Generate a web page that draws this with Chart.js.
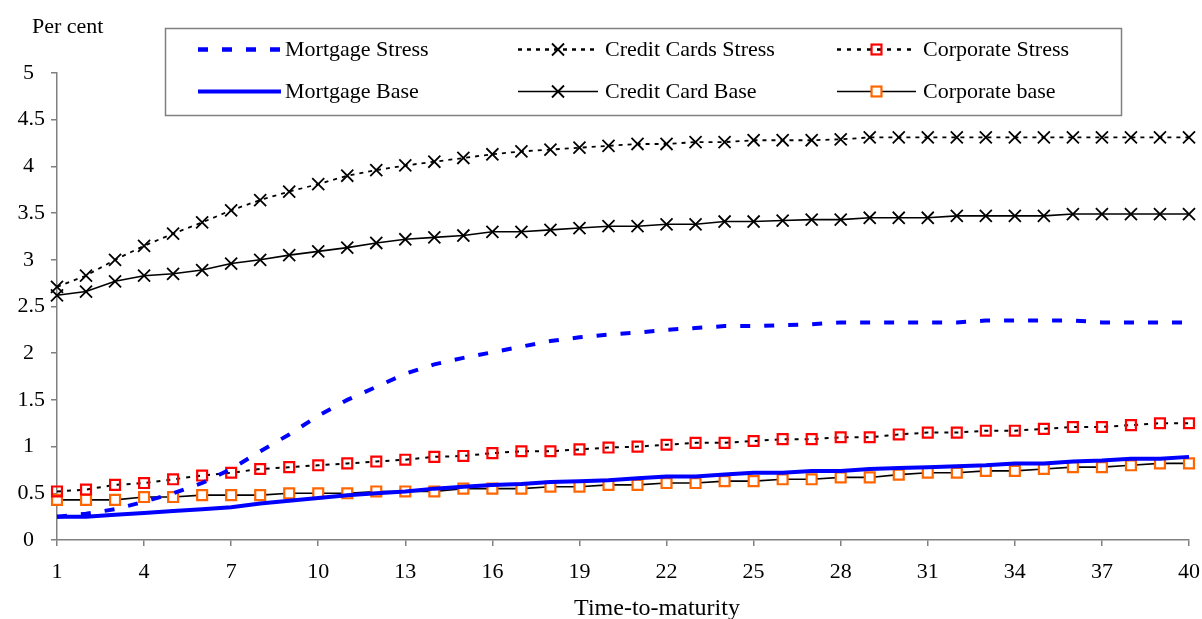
<!DOCTYPE html>
<html>
<head>
<meta charset="utf-8">
<script src="https://cdn.jsdelivr.net/npm/chart.js@4/dist/chart.umd.min.js"></script>
<style>
  html, body { margin: 0; padding: 0; background: #fff; }
  canvas { display: block; }
</style>
</head>
<body>
<canvas id="chart" width="1202" height="619"></canvas>
<script>
const FONT = `"Liberation Serif", "Times New Roman", serif`;
const AXIS_GREY = `#808080`;

const maturities = [1, 2, 3, 4, 5, 6, 7, 8, 9, 10, 11, 12, 13, 14, 15, 16, 17, 18, 19, 20,
  21, 22, 23, 24, 25, 26, 27, 28, 29, 30, 31, 32, 33, 34, 35, 36, 37, 38, 39, 40];

const mortgageStress = [0.25, 0.28, 0.33, 0.41, 0.50, 0.61, 0.76, 0.95, 1.13, 1.33,
  1.50, 1.64, 1.78, 1.88, 1.95, 2.01, 2.07, 2.13, 2.17, 2.20,
  2.22, 2.25, 2.27, 2.29, 2.29, 2.30, 2.31, 2.33, 2.33, 2.33,
  2.33, 2.33, 2.35, 2.35, 2.35, 2.35, 2.33, 2.33, 2.33, 2.33];

const mortgageBase = [0.25, 0.25, 0.27, 0.29, 0.31, 0.33, 0.35, 0.39, 0.42, 0.45,
  0.48, 0.50, 0.52, 0.55, 0.57, 0.59, 0.60, 0.62, 0.63, 0.64,
  0.66, 0.68, 0.68, 0.70, 0.72, 0.72, 0.74, 0.74, 0.76, 0.77,
  0.78, 0.79, 0.80, 0.82, 0.82, 0.84, 0.85, 0.87, 0.87, 0.89];

const creditStress = [2.71, 2.83, 3.00, 3.15, 3.28, 3.40, 3.53, 3.64, 3.73, 3.81,
  3.90, 3.96, 4.01, 4.05, 4.09, 4.13, 4.16, 4.18, 4.20, 4.22,
  4.24, 4.24, 4.26, 4.26, 4.28, 4.28, 4.28, 4.29, 4.31, 4.31,
  4.31, 4.31, 4.31, 4.31, 4.31, 4.31, 4.31, 4.31, 4.31, 4.31];

const creditBase = [2.62, 2.66, 2.77, 2.83, 2.85, 2.89, 2.96, 3.00, 3.05, 3.09,
  3.13, 3.18, 3.22, 3.24, 3.26, 3.30, 3.30, 3.32, 3.34, 3.36,
  3.36, 3.38, 3.38, 3.41, 3.41, 3.42, 3.43, 3.43, 3.45, 3.45,
  3.45, 3.47, 3.47, 3.47, 3.47, 3.49, 3.49, 3.49, 3.49, 3.49];

const corporateStress = [0.52, 0.54, 0.59, 0.61, 0.65, 0.69, 0.72, 0.76, 0.78, 0.80,
  0.82, 0.84, 0.86, 0.89, 0.90, 0.93, 0.95, 0.95, 0.97, 0.99,
  1.00, 1.02, 1.04, 1.04, 1.06, 1.08, 1.08, 1.10, 1.10, 1.13,
  1.15, 1.15, 1.17, 1.17, 1.19, 1.21, 1.21, 1.23, 1.25, 1.25];

const corporateBase = [0.43, 0.43, 0.43, 0.46, 0.46, 0.48, 0.48, 0.48, 0.50, 0.50,
  0.50, 0.52, 0.52, 0.52, 0.55, 0.55, 0.55, 0.57, 0.57, 0.59,
  0.59, 0.61, 0.61, 0.63, 0.63, 0.65, 0.65, 0.67, 0.67, 0.70,
  0.72, 0.72, 0.74, 0.74, 0.76, 0.78, 0.78, 0.80, 0.82, 0.82];

const toPoints = (values) => values.map((v, i) => ({x: maturities[i], y: v}));

const lineDefaults = {
  tension: 0,
  fill: false,
  clip: false,
  pointHoverRadius: 0,
};

const datasets = [
  Object.assign({}, lineDefaults, {
    label: `Mortgage Stress`,
    data: toPoints(mortgageStress),
    borderColor: `#0000ff`,
    borderWidth: 4,
    borderDash: [10, 14],
    borderCapStyle: `butt`,
    pointRadius: 0,
  }),
  Object.assign({}, lineDefaults, {
    label: `Credit Cards Stress`,
    data: toPoints(creditStress),
    borderColor: `#000000`,
    borderWidth: 1.8,
    borderDash: [4, 5],
    pointStyle: `crossRot`,
    pointRadius: 8.5,
    pointBorderColor: `#000000`,
    pointBorderWidth: 1.8,
  }),
  Object.assign({}, lineDefaults, {
    label: `Corporate Stress`,
    data: toPoints(corporateStress),
    borderColor: `#000000`,
    borderWidth: 2,
    borderDash: [4, 6],
    pointStyle: `rect`,
    pointRadius: 7,
    pointBorderColor: `#ff0000`,
    pointBackgroundColor: `rgba(255,255,255,0)`,
    pointBorderWidth: 2.2,
  }),
  Object.assign({}, lineDefaults, {
    label: `Mortgage Base`,
    data: toPoints(mortgageBase),
    borderColor: `#0000ff`,
    borderWidth: 4,
    pointRadius: 0,
  }),
  Object.assign({}, lineDefaults, {
    label: `Credit Card Base`,
    data: toPoints(creditBase),
    borderColor: `#000000`,
    borderWidth: 1.6,
    pointStyle: `crossRot`,
    pointRadius: 8.5,
    pointBorderColor: `#000000`,
    pointBorderWidth: 1.8,
  }),
  Object.assign({}, lineDefaults, {
    label: `Corporate base`,
    data: toPoints(corporateBase),
    borderColor: `#000000`,
    borderWidth: 1.6,
    pointStyle: `rect`,
    pointRadius: 7,
    pointBorderColor: `#ff6600`,
    pointBackgroundColor: `#ffffff`,
    pointBorderWidth: 2.2,
  }),
];

// legend slots: [column sample start, sample end, text x], rows by baseline
const legendColumns = [[198, 281, 285], [518, 598, 605], [837, 916, 923]];
const legendRows = [49.5, 91.5];
const legendOrder = [
  [`Mortgage Stress`, 0, 0], [`Credit Cards Stress`, 1, 0], [`Corporate Stress`, 2, 0],
  [`Mortgage Base`, 0, 1], [`Credit Card Base`, 1, 1], [`Corporate base`, 2, 1],
];

const drawMarker = (ctx, ds, x, y) => {
  if (!ds.pointRadius) {
    return;
  }
  ctx.save();
  ctx.setLineDash([]);
  ctx.lineWidth = ds.pointBorderWidth;
  ctx.strokeStyle = ds.pointBorderColor;
  if (ds.pointStyle === `crossRot`) {
    const r = ds.pointRadius * Math.SQRT1_2;
    ctx.beginPath();
    ctx.moveTo(x - r, y - r);
    ctx.lineTo(x + r, y + r);
    ctx.moveTo(x - r, y + r);
    ctx.lineTo(x + r, y - r);
    ctx.stroke();
  } else {
    const s = ds.pointRadius * Math.SQRT1_2;
    ctx.fillStyle = ds.pointBackgroundColor;
    ctx.fillRect(x - s, y - s, 2 * s, 2 * s);
    ctx.strokeRect(x - s, y - s, 2 * s, 2 * s);
  }
  ctx.restore();
};

const annotations = {
  id: `annotations`,
  beforeDraw(chart) {
    const ctx = chart.ctx;
    ctx.save();
    ctx.fillStyle = `#ffffff`;
    ctx.fillRect(0, 0, chart.width, chart.height);
    ctx.restore();
  },
  afterDraw(chart) {
    const ctx = chart.ctx;
    ctx.save();

    // axis captions
    ctx.fillStyle = `#000000`;
    ctx.font = `22px ${FONT}`;
    ctx.textBaseline = `alphabetic`;
    ctx.textAlign = `left`;
    ctx.fillText(`Per cent`, 32, 33);
    ctx.font = `24px ${FONT}`;
    ctx.textAlign = `center`;
    ctx.fillText(`Time-to-maturity`, 657, 615);

    // legend box
    ctx.strokeStyle = AXIS_GREY;
    ctx.lineWidth = 1.5;
    ctx.strokeRect(165.5, 28.5, 956, 87);

    ctx.font = `22px ${FONT}`;
    ctx.textAlign = `left`;
    legendOrder.forEach(([label, col, row]) => {
      const ds = chart.data.datasets.find((d) => d.label === label);
      const [x1, x2, tx] = legendColumns[col];
      const y = legendRows[row];
      ctx.save();
      ctx.strokeStyle = ds.borderColor;
      ctx.lineWidth = ds.borderWidth + (ds.borderDash ? 0.5 : 0);
      ctx.lineCap = `butt`;
      ctx.setLineDash(ds.borderDash || []);
      ctx.beginPath();
      ctx.moveTo(x1, y);
      ctx.lineTo(x2, y);
      ctx.stroke();
      ctx.restore();
      drawMarker(ctx, ds, (x1 + x2) / 2, y);
      ctx.fillStyle = `#000000`;
      ctx.fillText(label, tx, y + 6.5);
    });

    ctx.restore();
  },
};

new Chart(document.getElementById(`chart`), {
  type: `line`,
  data: {datasets},
  plugins: [annotations],
  options: {
    responsive: false,
    animation: false,
    devicePixelRatio: 1,
    layout: {padding: {top: 73, right: 13, left: 0, bottom: 0}},
    plugins: {
      legend: {display: false},
      tooltip: {enabled: false},
      title: {display: false},
    },
    scales: {
      x: {
        type: `linear`,
        min: 1,
        max: 40,
        afterFit: (scale) => {
          scale.height = 79;
          scale.paddingLeft = 0;
          scale.paddingRight = 0;
        },
        ticks: {
          stepSize: 3,
          color: `#000000`,
          padding: 13,
          maxRotation: 0,
          font: {family: FONT, size: 22},
        },
        grid: {
          drawOnChartArea: false,
          drawTicks: true,
          tickLength: 6,
          color: AXIS_GREY,
          lineWidth: 1.5,
        },
        border: {color: AXIS_GREY, width: 1.5},
      },
      y: {
        min: 0,
        max: 5,
        afterFit: (scale) => {
          scale.width = 57;
        },
        ticks: {
          stepSize: 0.5,
          color: `#000000`,
          padding: 6,
          font: {family: FONT, size: 22},
          callback: (v) => (Number.isInteger(v) ? `${v}\u2002` : `${v}`),
        },
        grid: {
          drawOnChartArea: false,
          drawTicks: true,
          tickLength: 6,
          color: AXIS_GREY,
          lineWidth: 1.5,
        },
        border: {color: AXIS_GREY, width: 1.5},
      },
    },
  },
});
</script>
</body>
</html>
